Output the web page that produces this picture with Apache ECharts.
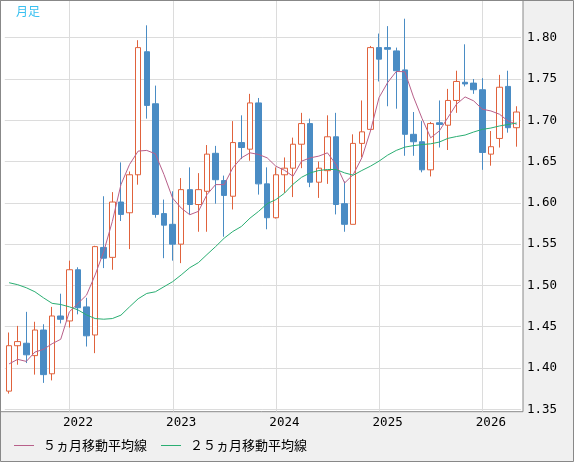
<!DOCTYPE html>
<html><head><meta charset="utf-8">
<script src="https://cdn.jsdelivr.net/npm/echarts@6/dist/echarts.min.js"></script>
<style>html,body{margin:0;padding:0;background:#f0f0f0}#c{width:574px;height:462px}</style>
</head><body><div id="c"></div>
<script>
const categories = [];
for (let i = 0; i < 60; i++) { const m = 4 + i; const y = 2021 + Math.floor(m / 12); categories.push(y + '/' + String(m % 12 + 1).padStart(2, '0')); }
const opens  = [1.372,1.427,1.430,1.415,1.446,1.393,1.463,1.457,1.519,1.474,1.440,1.546,1.534,1.601,1.588,1.634,1.783,1.720,1.587,1.574,1.550,1.616,1.598,1.614,1.660,1.627,1.608,1.673,1.665,1.721,1.623,1.582,1.634,1.642,1.671,1.696,1.625,1.639,1.680,1.599,1.574,1.672,1.689,1.788,1.788,1.784,1.761,1.683,1.674,1.640,1.697,1.694,1.724,1.746,1.745,1.737,1.659,1.678,1.741,1.691];
const closes = [1.427,1.432,1.416,1.446,1.392,1.463,1.459,1.519,1.473,1.439,1.547,1.533,1.601,1.586,1.634,1.788,1.718,1.586,1.573,1.550,1.616,1.598,1.616,1.659,1.628,1.609,1.673,1.667,1.721,1.623,1.582,1.634,1.642,1.671,1.696,1.625,1.642,1.680,1.598,1.574,1.672,1.686,1.788,1.774,1.786,1.760,1.683,1.674,1.640,1.696,1.695,1.724,1.747,1.744,1.737,1.661,1.668,1.740,1.691,1.710];
const lows   = [1.369,1.404,1.406,1.392,1.382,1.385,1.454,1.449,1.465,1.426,1.418,1.521,1.519,1.578,1.544,1.622,1.702,1.582,1.533,1.530,1.527,1.586,1.565,1.565,1.599,1.559,1.592,1.653,1.651,1.610,1.568,1.581,1.612,1.607,1.642,1.619,1.606,1.623,1.586,1.565,1.574,1.655,1.689,1.747,1.717,1.714,1.657,1.657,1.637,1.632,1.667,1.664,1.709,1.741,1.732,1.640,1.645,1.667,1.685,1.668];
const highs  = [1.443,1.451,1.468,1.456,1.453,1.474,1.490,1.530,1.522,1.485,1.548,1.608,1.613,1.649,1.638,1.797,1.815,1.742,1.604,1.614,1.630,1.643,1.636,1.670,1.669,1.633,1.699,1.706,1.732,1.727,1.643,1.643,1.655,1.679,1.709,1.702,1.650,1.706,1.709,1.626,1.683,1.724,1.790,1.805,1.814,1.788,1.823,1.710,1.699,1.698,1.724,1.738,1.760,1.792,1.750,1.751,1.687,1.755,1.760,1.717];
const ma5  = [1.405,1.4105,1.408,1.4193,1.4226,1.4294,1.4348,1.468,1.4781,1.4883,1.5127,1.541,1.5775,1.6221,1.6465,1.6627,1.6635,1.6594,1.6343,1.6058,1.5937,1.5856,1.5897,1.61,1.6221,1.6221,1.6423,1.6545,1.6606,1.6586,1.6545,1.6444,1.6395,1.6322,1.6505,1.6545,1.6566,1.6606,1.6465,1.6241,1.6343,1.6545,1.687,1.7275,1.7457,1.7591,1.7588,1.7283,1.7022,1.6788,1.687,1.7032,1.7195,1.7283,1.7235,1.7134,1.7113,1.7073,1.6991,1.6951];
const ma25 = [1.5033,1.5009,1.4972,1.4923,1.485,1.4783,1.4769,1.4741,1.4704,1.4643,1.4599,1.4591,1.4599,1.464,1.4741,1.4838,1.4903,1.4923,1.4984,1.5045,1.5127,1.5215,1.5276,1.5374,1.547,1.5572,1.5653,1.5714,1.5815,1.5897,1.599,1.6039,1.6116,1.6225,1.631,1.6363,1.6392,1.6404,1.6404,1.6363,1.6335,1.6392,1.6444,1.6505,1.6578,1.6635,1.6675,1.6693,1.6706,1.6715,1.6736,1.6781,1.6803,1.6821,1.6858,1.689,1.6906,1.6931,1.6949,1.6967];
const yearTickIdx = [8, 20, 32, 44, 56];
const yearLineIdx = [7, 19, 31, 43, 55];

const candles = opens.map((o, i) => [o, closes[i], lows[i], highs[i]]);
const chart = echarts.init(document.getElementById('c'));
const mono = 'DejaVu Sans Mono';
const baseGraphic = [
  { type: 'rect', z: -10, shape: { x: 0.5, y: 0.5, width: 522.5, height: 411.2 }, style: { fill: '#fff', stroke: '#888', lineWidth: 1 } },
  { type: 'rect', z: 100, shape: { x: 0.5, y: 0.5, width: 573, height: 461 }, style: { fill: 'none', stroke: '#888', lineWidth: 1 } },
  { type: 'text', z: 100, left: 16, top: 5, style: { text: '月足', fill: '#39c0f0', font: '12px "Noto Sans CJK JP"' } }
];
chart.setOption({
  animation: false,
  backgroundColor: '#f0f0f0',
  grid: { left: 4.8, right: 53, top: 37.7, bottom: 52.7 },
  graphic: baseGraphic,
  legend: {
    left: 14, top: 439, padding: 0, itemGap: 14, itemWidth: 20, itemHeight: 1, icon: 'rect',
    textStyle: { fontFamily: 'Noto Sans CJK JP', fontSize: 13, color: '#000', padding: [0, 0, 0, 4] },
    data: ['５ヵ月移動平均線', '２５ヵ月移動平均線']
  },
  xAxis: {
    type: 'category', data: categories, boundaryGap: true,
    axisLine: { show: false }, axisTick: { show: false }, splitLine: { show: false },
    axisLabel: { interval: (i) => yearTickIdx.includes(i), formatter: (v) => v.slice(0, 4), fontFamily: mono, fontSize: 12.5, color: '#000', margin: 7 }
  },
  yAxis: {
    type: 'value', position: 'right', min: 1.35, max: 1.80, interval: 0.05, scale: true,
    axisLine: { show: false }, axisTick: { show: false },
    splitLine: { lineStyle: { color: '#dcdcdc' } },
    axisLabel: { formatter: (v) => v.toFixed(2), fontFamily: mono, fontSize: 12.5, color: '#000', margin: 6, verticalAlign: 'middle' }
  },
  series: [
    { type: 'candlestick', data: candles, barWidth: 6, clip: false,
      itemStyle: { color: '#fff', color0: '#4a8cc4', borderColor: '#e0623c', borderColor0: '#4a8cc4', borderWidth: 1 } },
    { name: '５ヵ月移動平均線', type: 'line', data: ma5, showSymbol: false, clip: false, color: '#b8608a', lineStyle: { width: 1 } },
    { name: '２５ヵ月移動平均線', type: 'line', data: ma25, showSymbol: false, clip: false, color: '#2aae72', lineStyle: { width: 1 } }
  ]
});
const lines = yearLineIdx.map(i => {
  const x = Math.round(chart.convertToPixel({ xAxisIndex: 0 }, i)) + 0.5;
  return { type: 'line', z: -5, shape: { x1: x, y1: 0, x2: x, y2: 411.5 }, style: { stroke: '#dcdcdc', lineWidth: 1 } };
});
chart.setOption({ graphic: baseGraphic.concat(lines) }, { replaceMerge: ['graphic'] });
</script></body></html>
